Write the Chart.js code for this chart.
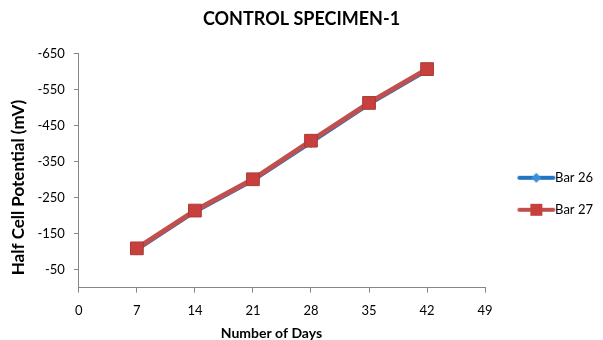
<!DOCTYPE html>
<html>
<head>
<meta charset="utf-8">
<title>Control Specimen-1</title>
<script src="https://cdn.jsdelivr.net/npm/chart.js@4.4.1/dist/chart.umd.min.js"></script>
<style>
    html, body { margin: 0; padding: 0; background: #fff; }
    #wrap { width: 603px; height: 340px; }
</style>
</head>
<body>
<div id="wrap"><canvas id="chartHcp"></canvas></div>
<script>
const days = [7, 14, 21, 28, 35, 42];
const bar26 = [-104, -209, -296, -402, -508, -602];
const bar27 = [-109, -214, -301, -408, -513, -607];
const yTicks = [-650, -550, -450, -350, -250, -150, -50];

const fontFam = "Lato, 'Open Sans', sans-serif";
const axisGray = '#868686';
const blue = '#1f74c4';
const red = '#c0504d';

// little line + marker pictures for the legend
const legendIcon = (color, style) => {
    const c = document.createElement('canvas');
    c.width = 64;
    c.height = 14;
    const g = c.getContext('2d');
    g.strokeStyle = color;
    g.lineWidth = 4;
    g.lineCap = 'round';
    g.beginPath();
    g.moveTo(25, 7);
    g.lineTo(59, 7);
    g.stroke();
    if (style === 'diamond') {
        g.fillStyle = '#3c8fd8';
        g.beginPath();
        g.moveTo(42, 2);
        g.lineTo(47, 7);
        g.lineTo(42, 12);
        g.lineTo(37, 7);
        g.closePath();
        g.fill();
    } else {
        g.fillStyle = '#c8403d';
        g.fillRect(36, 1, 12, 12);
    }
    return c;
};

const toPoints = (vals) => days.map((d, i) => ({x: d, y: vals[i]}));

const ctx = document.getElementById('chartHcp').getContext('2d');

const data = {
    datasets: [{
        label: 'Bar 26',
        data: toPoints(bar26),
        borderColor: blue,
        backgroundColor: '#3c8fd8',
        borderWidth: 3,
        pointStyle: 'rectRot',
        pointRadius: 5,
        pointBorderWidth: 0,
        order: 2
    }, {
        label: 'Bar 27',
        data: toPoints(bar27),
        borderColor: red,
        backgroundColor: '#c8403d',
        borderWidth: 5,
        pointStyle: 'rect',
        pointRadius: 9,
        pointBorderColor: '#a83a37',
        pointBorderWidth: 1,
        order: 1
    }]
};

const myChart = new Chart(ctx, {
    type: 'line',
    data: data,
    options: {
        responsive: true,
        maintainAspectRatio: false,
        animation: false,
        layout: { padding: { left: 0, right: 0, top: 4, bottom: 0 } },
        plugins: {
            title: {
                display: true,
                text: 'CONTROL SPECIMEN-1',
                color: '#000',
                font: { family: fontFam, size: 18, weight: 'bold' },
                padding: { top: 4, bottom: 24 }
            },
            legend: {
                display: true,
                position: 'right',
                title: {
                    display: true,
                    text: ' ',
                    font: { family: fontFam, size: 13 },
                    padding: { top: 28, bottom: 0 }
                },
                labels: {
                    color: '#000',
                    font: { family: fontFam, size: 13 },
                    usePointStyle: true,
                    pointStyleWidth: 44.5,
                    padding: 19,
                    generateLabels: () => [
                        { text: 'Bar 26', pointStyle: legendIcon(blue, 'diamond'), datasetIndex: 0, lineWidth: 0, fontColor: '#000' },
                        { text: 'Bar 27', pointStyle: legendIcon(red, 'rect'), datasetIndex: 1, lineWidth: 0, fontColor: '#000' }
                    ]
                }
            },
            tooltip: { enabled: false }
        },
        scales: {
            x: {
                type: 'linear',
                min: 0,
                max: 49,
                ticks: {
                    stepSize: 7,
                    color: '#000',
                    font: { family: fontFam, size: 13 },
                    padding: 10
                },
                grid: { drawOnChartArea: false, color: axisGray, tickLength: 5 },
                border: { color: axisGray },
                title: {
                    display: true,
                    // trailing em spaces nudge the centred text a bit to the left
                    text: 'Number of Days\u2003\u2003',
                    color: '#000',
                    font: { family: fontFam, size: 14, weight: 'bold' },
                    padding: { top: -3, bottom: -2 }
                }
            },
            y: {
                type: 'linear',
                reverse: true,
                min: -650,
                max: 0,
                afterBuildTicks: (scale) => {
                    scale.ticks = yTicks.map(v => ({ value: v }));
                },
                ticks: {
                    color: '#000',
                    font: { family: fontFam, size: 13 },
                    padding: 9
                },
                grid: { drawOnChartArea: false, color: axisGray, tickLength: 5 },
                border: { color: axisGray },
                title: {
                    display: true,
                    // trailing spaces push the rotated title down the axis
                    text: 'Half Cell Potential (mV)\u2003\u2003\u2002',
                    color: '#000',
                    font: { family: fontFam, size: 17, weight: 'bold' },
                    padding: { top: 8, bottom: 0 }
                }
            }
        }
    }
});
</script>
</body>
</html>
